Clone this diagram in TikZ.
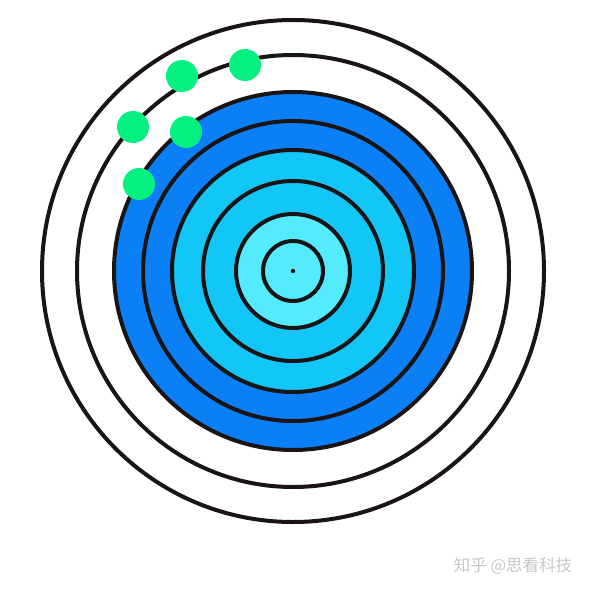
\documentclass[tikz,border=0pt]{standalone}
\usepackage{fontspec}
\newfontfamily\cjk{Noto Sans CJK SC}
\definecolor{ringline}{HTML}{1A1414}
\definecolor{deepblue}{HTML}{0A7FF6}
\definecolor{midblue}{HTML}{12C6F7}
\definecolor{paleblue}{HTML}{55EBFF}
\definecolor{dotgreen}{HTML}{05F080}
\definecolor{markgray}{HTML}{C8C8C8}
\begin{document}
\begin{tikzpicture}[x=1pt,y=-1pt,
  ring/.style={draw=ringline,line width=4pt},
  greendot/.style={circle,fill=dotgreen,minimum size=32pt,inner sep=0pt}]
\useasboundingbox (0,0) rectangle (591,591);
\coordinate (c) at (293,271);
\fill[white] (0,0) rectangle (591,591);
\draw[ring] (c) circle[radius=251];
\draw[ring] (c) circle[radius=216];
\filldraw[ring,fill=deepblue] (c) circle[radius=179];
\filldraw[ring,fill=deepblue] (c) circle[radius=150];
\filldraw[ring,fill=midblue] (c) circle[radius=121];
\filldraw[ring,fill=midblue] (c) circle[radius=90];
\filldraw[ring,fill=paleblue] (c) circle[radius=57];
\filldraw[ring,fill=paleblue] (c) circle[radius=30];
\fill[ringline] (c) circle[radius=2.2];
\node[greendot] (d1) at (182,76) {};
\node[greendot] (d2) at (245,65) {};
\node[greendot] (d3) at (133,127) {};
\node[greendot] (d4) at (186,132) {};
\node[greendot] (d5) at (139,184) {};
\node[text=markgray,font=\cjk\fontsize{16.5}{16.5}\selectfont,inner sep=0pt] (wm) at (513,566) {知乎 @思看科技};
\end{tikzpicture}
\end{document}
